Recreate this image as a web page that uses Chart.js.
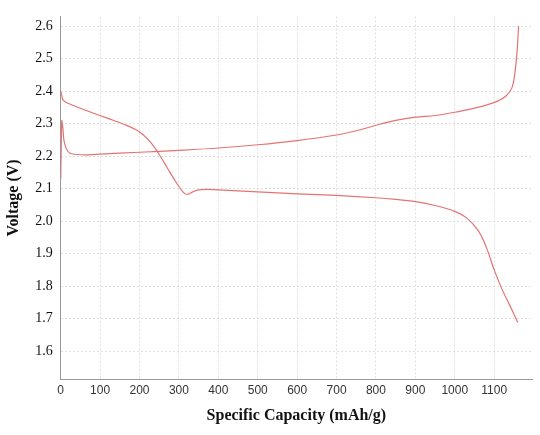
<!DOCTYPE html>
<html><head><meta charset="utf-8">
<script src="https://cdn.jsdelivr.net/npm/chart.js@4"></script>
<style>html,body{margin:0;padding:0;background:#fff}#w{width:540px;height:435px}</style>
</head><body><div id="w"><canvas id="c"></canvas></div>
<script>
const dischargeX=[0,2,5,10,20,40,70,100,130,160,190,210,230,250,270,290,310,320,335,350,370,400,450,500,600,700,800,850,900,950,1000,1030,1060,1080,1100,1120,1140,1160];
const dischargeY=[2.40,2.39,2.375,2.368,2.362,2.352,2.338,2.325,2.312,2.298,2.282,2.265,2.24,2.205,2.165,2.125,2.09,2.082,2.09,2.096,2.098,2.096,2.093,2.09,2.084,2.079,2.072,2.067,2.06,2.048,2.03,2.01,1.97,1.92,1.85,1.79,1.74,1.688];
const chargeX=[0,1,2,3,4,6,8,12,18,25,40,70,100,200,300,400,500,600,700,750,800,850,900,950,1000,1050,1080,1110,1130,1145,1152,1158,1162];
const chargeY=[2.13,2.2,2.28,2.31,2.3,2.28,2.25,2.23,2.215,2.208,2.205,2.204,2.206,2.212,2.218,2.225,2.235,2.248,2.265,2.278,2.295,2.31,2.32,2.325,2.335,2.348,2.357,2.37,2.385,2.41,2.45,2.52,2.6];
const xTicks=[0,100,200,300,400,500,600,700,800,900,1000,1100];
const yTicks=[1.6,1.7,1.8,1.9,2.0,2.1,2.2,2.3,2.4,2.5,2.6];
const pts=(xs,ys)=>xs.map((x,i)=>({x,y:ys[i]}));
new Chart(document.getElementById('c'),{type:'scatter',
data:{datasets:[
{data:pts(dischargeX,dischargeY),showLine:true,borderColor:'#e57373',borderWidth:1.2,pointRadius:0,tension:0.3},
{data:pts(chargeX,chargeY),showLine:true,borderColor:'#e57373',borderWidth:1.2,pointRadius:0,tension:0.3}]},
options:{responsive:true,maintainAspectRatio:false,animation:false,
layout:{padding:{top:10,right:8,left:0,bottom:6}},
plugins:{legend:{display:false},tooltip:{enabled:false}},
scales:{
x:{type:'linear',min:0,max:1196,afterBuildTicks:a=>{a.ticks=xTicks.map(v=>({value:v}))},
 grid:{color:'#e0e0e0',drawTicks:false},border:{color:'#999',dash:[2,2]},
 ticks:{color:'#333',font:{family:'Liberation Sans',size:12},padding:4,callback:v=>String(v)},
 title:{display:true,text:'Specific Capacity (mAh/g)',color:'#111',font:{family:'Liberation Serif',size:16,weight:'bold'},padding:{top:4}}},
y:{min:1.513,max:2.63,afterBuildTicks:a=>{a.ticks=yTicks.map(v=>({value:v}))},
 grid:{color:'#e0e0e0',drawTicks:false},border:{color:'#999',dash:[2,2]},
 ticks:{color:'#111',font:{family:'Liberation Serif',size:14},padding:8,callback:v=>v.toFixed(1)},
 title:{display:true,text:'Voltage (V)',color:'#111',font:{family:'Liberation Serif',size:16,weight:'bold'}}}}}});
</script></body></html>
